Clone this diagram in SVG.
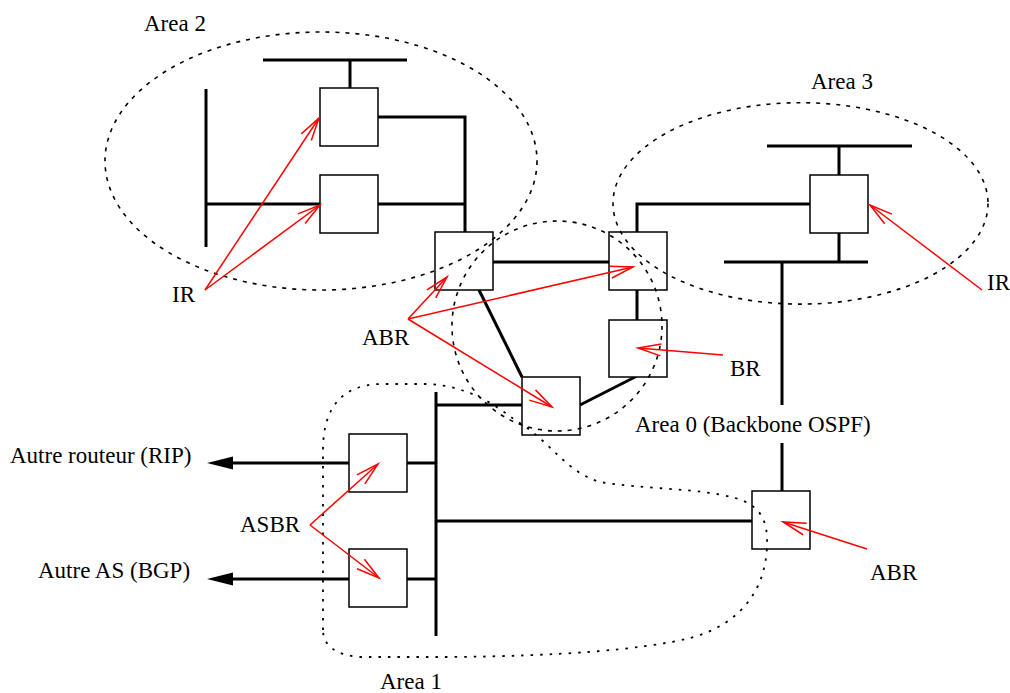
<svg xmlns="http://www.w3.org/2000/svg" width="1010" height="693" viewBox="0 0 1010 693">
<style>
.bus{stroke:#000;stroke-width:3;fill:none}
.rt{fill:#fff;stroke:#000;stroke-width:1.5}
.area{fill:none;stroke:#000;stroke-width:1.6;stroke-dasharray:4 6}
.area1{fill:none;stroke:#000;stroke-width:1.8;stroke-dasharray:2.5 7}
.ptr{stroke:#f00;stroke-width:1.5;fill:none;marker-end:url(#open)}
.ext{stroke:#000;stroke-width:3;fill:none;marker-end:url(#solid)}
.lbl{font-size:23px;fill:#000}
</style>
<defs>
<marker id="open" markerUnits="userSpaceOnUse" markerWidth="30" markerHeight="20" refX="23" refY="6" orient="auto" overflow="visible"><path d="M0,0 L23,6 L0,12" fill="none" stroke="#f00" stroke-width="1.5"/></marker>
<marker id="solid" markerUnits="userSpaceOnUse" markerWidth="30" markerHeight="20" refX="0" refY="6.5" orient="auto" overflow="visible"><path d="M0,0 L26,6.5 L0,13 Z" fill="#000"/></marker>
</defs>
<rect width="1010" height="693" fill="#fff"/>
<g id="connectors">
<line class="bus" x1="263" y1="60" x2="407" y2="60"/>
<line class="bus" x1="350" y1="60" x2="350" y2="89"/>
<line class="bus" x1="206" y1="89" x2="206" y2="247"/>
<line class="bus" x1="206" y1="204" x2="320" y2="204"/>
<polyline class="bus" points="378,117 465,117 465,232"/>
<line class="bus" x1="378" y1="204" x2="465" y2="204"/>
<line class="bus" x1="493" y1="262" x2="609" y2="262"/>
<line class="bus" x1="479" y1="290" x2="522" y2="377"/>
<line class="bus" x1="637" y1="290" x2="637" y2="320"/>
<line class="bus" x1="580" y1="405" x2="637" y2="376"/>
<polyline class="bus" points="637,232 637,204 810,204"/>
<line class="bus" x1="767" y1="146" x2="912" y2="146"/>
<line class="bus" x1="839" y1="146" x2="839" y2="175"/>
<line class="bus" x1="724" y1="262" x2="868" y2="262"/>
<line class="bus" x1="839" y1="233" x2="839" y2="262"/>
<line class="bus" x1="782" y1="262" x2="782" y2="405"/>
<line class="bus" x1="782" y1="443" x2="782" y2="491"/>
<line class="bus" x1="436" y1="392" x2="436" y2="636"/>
<line class="bus" x1="436" y1="405" x2="522" y2="405"/>
<line class="bus" x1="436" y1="521" x2="752" y2="521"/>
<line class="bus" x1="407" y1="463" x2="436" y2="463"/>
<line class="bus" x1="407" y1="579" x2="436" y2="579"/>
<line class="ext" x1="349" y1="463" x2="233" y2="463"/>
<line class="ext" x1="349" y1="579" x2="233" y2="579"/>
</g>
<g id="r-a2-top"><rect class="rt" x="320" y="88" width="58" height="58"/></g>
<g id="r-a2-bottom"><rect class="rt" x="320" y="175" width="58" height="58"/></g>
<g id="abr-a2"><rect class="rt" x="435" y="232" width="58" height="58"/></g>
<g id="abr-a3"><rect class="rt" x="609" y="232" width="58" height="58"/></g>
<g id="br"><rect class="rt" x="609" y="320" width="58" height="57"/></g>
<g id="abr-a1"><rect class="rt" x="522" y="377" width="58" height="58"/></g>
<g id="r-a3"><rect class="rt" x="810" y="175" width="58" height="58"/></g>
<g id="abr-a1-b"><rect class="rt" x="752" y="491" width="58" height="58"/></g>
<g id="asbr-rip"><rect class="rt" x="349" y="434" width="58" height="58"/></g>
<g id="asbr-bgp"><rect class="rt" x="349" y="549" width="58" height="58"/></g>
<g id="areas">
<ellipse id="area2" class="area" cx="321" cy="161" rx="216" ry="129"/>
<ellipse id="area3" class="area" cx="800.5" cy="203.4" rx="187.5" ry="100.7"/>
<circle id="area0" class="area" cx="557" cy="326" r="105"/>
<path id="area1" class="area1" d="M323,630 L323,450 C323,410 340,385 380,384 L430,384 C470,387 495,405 515,420 C550,440 565,472 600,482 C640,489 700,488 735,498 C760,505 768,520 767,545 C766,590 740,625 690,638 C640,650 560,656 450,657 L360,657 C335,655 323,645 323,630 Z"/>
</g>
<g id="pointers">
<line class="ptr" x1="205" y1="290" x2="319" y2="118"/>
<line class="ptr" x1="205" y1="290" x2="320" y2="205"/>
<line class="ptr" x1="408" y1="319" x2="447" y2="277"/>
<line class="ptr" x1="408" y1="319" x2="633" y2="267"/>
<line class="ptr" x1="408" y1="319" x2="552" y2="407"/>
<line class="ptr" x1="723" y1="355" x2="638" y2="348"/>
<line class="ptr" x1="982" y1="290" x2="870" y2="205"/>
<line class="ptr" x1="867" y1="549" x2="783" y2="522"/>
<line class="ptr" x1="310" y1="525" x2="378" y2="464"/>
<line class="ptr" x1="310" y1="525" x2="379" y2="578"/>
</g>
<g id="labels" font-family="Liberation Serif, DejaVu Serif, serif">
<text class="lbl" x="144" y="31">Area 2</text>
<text class="lbl" x="811" y="89">Area 3</text>
<text class="lbl" x="172" y="302">IR</text>
<text class="lbl" x="362" y="345">ABR</text>
<text class="lbl" x="730" y="376">BR</text>
<text class="lbl" x="635" y="432">Area 0 (Backbone OSPF)</text>
<text class="lbl" x="987" y="290">IR</text>
<text class="lbl" x="870" y="580">ABR</text>
<text class="lbl" x="240" y="532">ASBR</text>
<text class="lbl" x="10" y="463">Autre routeur (RIP)</text>
<text class="lbl" x="38" y="578">Autre AS (BGP)</text>
<text class="lbl" x="380" y="689">Area 1</text>
</g>
</svg>
